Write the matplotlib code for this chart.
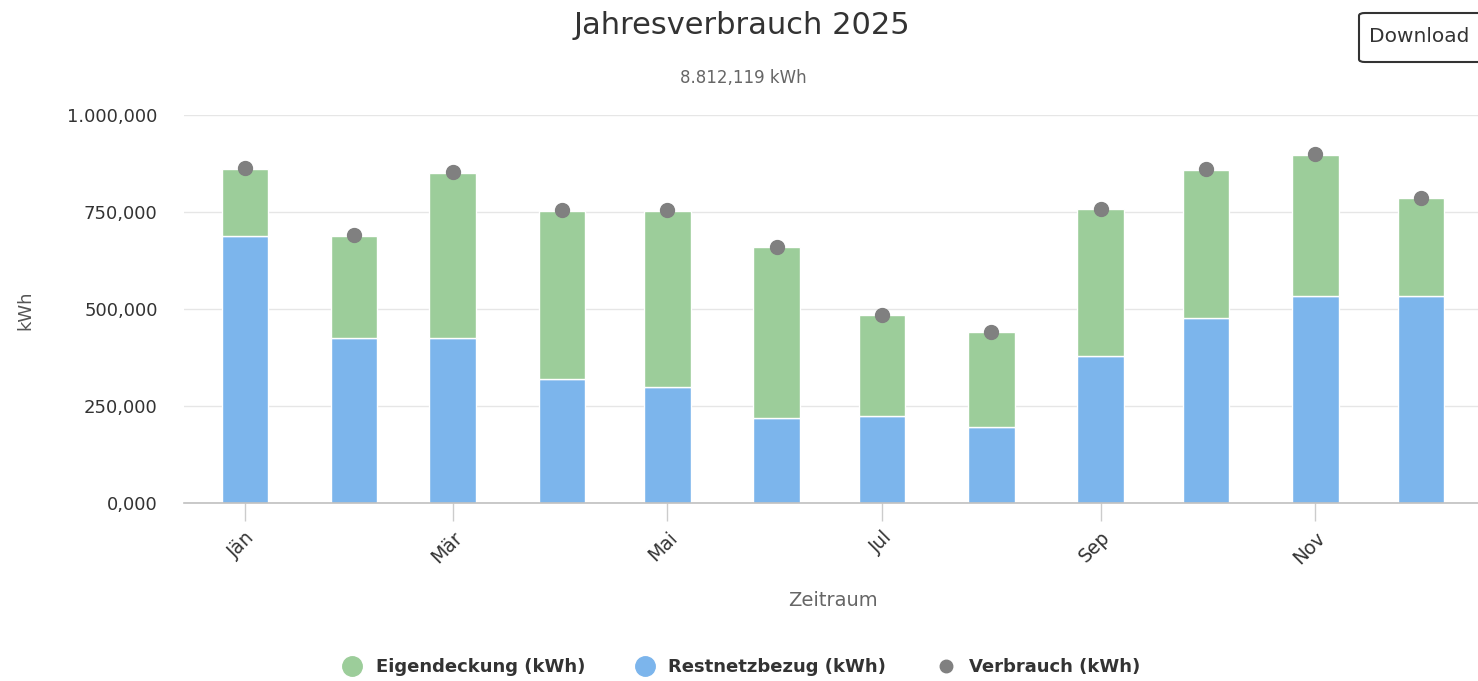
import datetime as dt
import matplotlib
matplotlib.use("Agg")
import matplotlib.pyplot as plt
import matplotlib.dates as mdates
from matplotlib.lines import Line2D
from matplotlib.patches import FancyBboxPatch

# monthly values in kWh
months = ["2025-01", "2025-02", "2025-03", "2025-04", "2025-05", "2025-06",
          "2025-07", "2025-08", "2025-09", "2025-10", "2025-11", "2025-12"]
restnetzbezug = [688, 426, 426, 319, 300, 220, 224, 196, 379, 478, 534, 534]
eigendeckung = [174, 263, 425, 434, 453, 439, 260, 245, 378, 381, 364, 251]
verbrauch = [864, 690, 853, 755, 755, 661, 485, 442, 759, 860, 900, 786]

tick_months = ["2025-01", "2025-03", "2025-05", "2025-07", "2025-09", "2025-11"]
tick_labels = ["Jän", "Mär", "Mai", "Jul", "Sep", "Nov"]
y_ticks = [0, 250, 500, 750, 1000]

c_green = "#9ccd9a"
c_blue = "#7cb5ec"
c_gray = "#808080"


def to_num(s):
    return mdates.date2num(dt.datetime.strptime(s + "-01", "%Y-%m-%d"))


def de_fmt(v):
    # german number format: 1.000,000
    s = f"{v:,.3f}"
    return s.replace(",", "X").replace(".", ",").replace("X", ".")


x = [to_num(m) for m in months]

fig = plt.figure(figsize=(14.78, 6.81), dpi=100)
ax = fig.add_axes([184 / 1478, 1 - 503 / 681, 1 - 184 / 1478, (503 - 115) / 681])

ax.bar(x, restnetzbezug, width=13.2, color=c_blue, edgecolor="white", linewidth=1, zorder=2)
ax.bar(x, eigendeckung, width=13.2, bottom=restnetzbezug, color=c_green,
       edgecolor="white", linewidth=1, zorder=2)
ax.plot(x, verbrauch, "o", color=c_gray, markersize=10, zorder=3, linestyle="none")

ax.set_ylim(0, 1000)
ax.set_xlim(x[0] - 17.3, x[-1] + 16.2)

ax.set_yticks(y_ticks)
ax.set_yticklabels([de_fmt(v) for v in y_ticks])
ax.tick_params(axis="y", length=0, pad=19, labelsize=13, labelcolor="#333333")
ax.grid(axis="y", color="#e6e6e6", linewidth=1, zorder=0)
ax.set_axisbelow(True)

ax.set_xticks([to_num(m) for m in tick_months])
ax.set_xticklabels(tick_labels, rotation=45, ha="right", rotation_mode="anchor")
ax.tick_params(axis="x", length=13, width=1, color="#cccccc", pad=5,
               labelsize=13.5, labelcolor="#333333")

for sp in ["top", "right", "left"]:
    ax.spines[sp].set_visible(False)
ax.spines["bottom"].set_color("#c0c0c0")
ax.spines["bottom"].set_linewidth(1.2)

fig.text(25 / 1478, 1 - 310 / 681, "kWh", rotation=90, ha="center", va="center",
         fontsize=13, color="#555555")
fig.text(833 / 1478, 1 - 600 / 681, "Zeitraum", ha="center", va="center",
         fontsize=14, color="#666666")

fig.text(742 / 1478, 1 - 25 / 681, "Jahresverbrauch 2025", ha="center", va="center",
         fontsize=22, color="#333333")
fig.text(743 / 1478, 1 - 78 / 681, "8.812,119 kWh", ha="center", va="center",
         fontsize=12, color="#666666")

# download button (cut off at the right edge)
btn = FancyBboxPatch((1359 / 1478, 1 - 62 / 681), 140 / 1478, 49 / 681,
                     boxstyle="round,pad=0,rounding_size=0.004",
                     transform=fig.transFigure, facecolor="white",
                     edgecolor="#333333", linewidth=1.5, clip_on=False)
fig.patches.append(btn)
fig.text(1369 / 1478, 1 - 36 / 681, "Download", ha="left", va="center",
         fontsize=14.5, color="#333333")

handles = [
    Line2D([], [], marker="o", linestyle="none", color=c_green, markersize=14),
    Line2D([], [], marker="o", linestyle="none", color=c_blue, markersize=14),
    Line2D([], [], marker="o", linestyle="none", color=c_gray, markersize=9),
]
fig.legend(handles, ["Eigendeckung (kWh)", "Restnetzbezug (kWh)", "Verbrauch (kWh)"],
           loc="center", bbox_to_anchor=(742 / 1478, 1 - 667 / 681), ncol=3,
           frameon=False, handlelength=1.0, handletextpad=0.8, columnspacing=2.8,
           prop={"size": 13, "weight": "bold"}, labelcolor="#333333")

fig.savefig("out.png", dpi=100)
